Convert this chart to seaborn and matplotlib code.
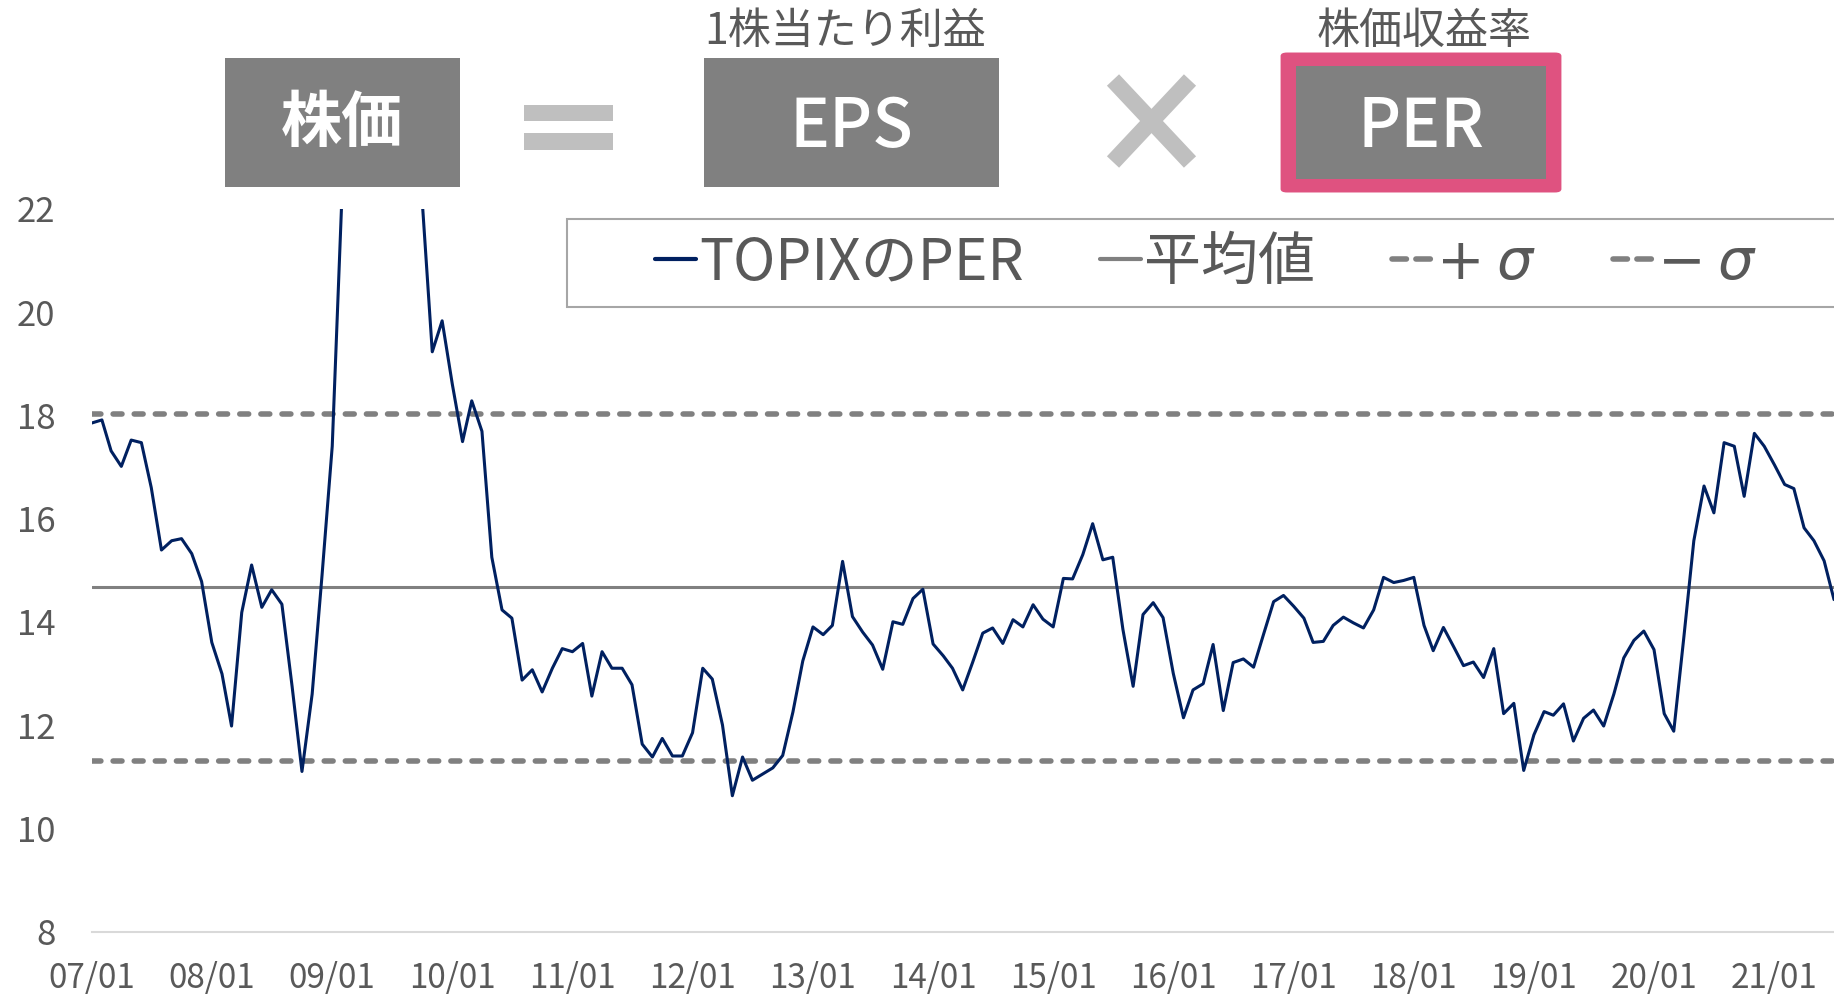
import matplotlib
matplotlib.use("Agg")
import matplotlib.pyplot as plt
import matplotlib.dates as mdates
from matplotlib.patches import Rectangle, FancyBboxPatch
from matplotlib.lines import Line2D
import numpy as np
import pandas as pd
import seaborn as sns

# ── data: TOPIX PER, monthly from 2007/01 ────────────────────────────────────
START = "2007-01-01"
per_values = [
    17.85, 17.91, 17.31, 17.01, 17.52, 17.47, 16.60, 15.39, 15.57, 15.61, 15.32, 14.78,   # 2007
    13.60, 12.99, 11.98, 14.18, 15.10, 14.28, 14.62, 14.34, 12.75, 11.10, 12.60, 14.90,   # 2008
    17.40, 22.50, 30.00, 38.00, 45.00, 52.00, 48.00, 40.00, 32.00, 22.20, 19.23, 19.83,   # 2009
    18.60, 17.49, 18.28, 17.69, 15.25, 14.23, 14.07, 12.87, 13.07, 12.64, 13.10, 13.48,   # 2010
    13.42, 13.58, 12.56, 13.42, 13.10, 13.10, 12.78, 11.63, 11.38, 11.74, 11.40, 11.40,   # 2011
    11.85, 13.10, 12.89, 12.00, 10.63, 11.38, 10.93, 11.05, 11.17, 11.41, 12.25, 13.24,   # 2012
    13.90, 13.75, 13.93, 15.17, 14.10, 13.80, 13.55, 13.08, 14.00, 13.95, 14.45, 14.63,   # 2013
    13.57, 13.34, 13.10, 12.68, 13.21, 13.78, 13.88, 13.58, 14.04, 13.90, 14.33, 14.05,   # 2014
    13.90, 14.84, 14.83, 15.30, 15.90, 15.20, 15.25, 13.85, 12.75, 14.14, 14.37, 14.08,   # 2015
    13.00, 12.14, 12.68, 12.80, 13.56, 12.28, 13.21, 13.28, 13.12, 13.75, 14.39, 14.51,   # 2016
    14.30, 14.07, 13.60, 13.62, 13.93, 14.09, 13.98, 13.88, 14.23, 14.86, 14.76, 14.80,   # 2017
    14.86, 13.93, 13.44, 13.89, 13.53, 13.15, 13.22, 12.92, 13.48, 12.22, 12.42, 11.12,   # 2018
    11.81, 12.26, 12.19, 12.41, 11.69, 12.13, 12.29, 11.98, 12.60, 13.30, 13.64, 13.82,   # 2019
    13.46, 12.22, 11.88, 13.72, 15.57, 16.63, 16.11, 17.47, 17.40, 16.43, 17.65, 17.40,   # 2020
    17.04, 16.66, 16.58, 15.82, 15.57, 15.18, 14.43,                                      # 2021
]
mean_value = 14.67
sigma = 3.36
y_ticks = [8, 10, 12, 14, 16, 18, 20, 22]
legend_labels = ["TOPIXのPER", "平均値", "$+$ $\\sigma$", "$-$ $\\sigma$"]
top_labels = ["1株当たり利益", "株価収益率"]

NAVY = "#002060"
GRAY = "#808080"
LIGHT = "#bfbfbf"
TEXT = "#595959"
PINK = "#df5280"

W, H = 1834, 994

sns.set_theme(style="white")
plt.rcParams["font.family"] = ["Noto Sans CJK JP", "DejaVu Sans"]

df = pd.DataFrame({
    "date": pd.date_range(START, periods=len(per_values), freq="MS"),
    "per": per_values,
})

fig = plt.figure(figsize=(W / 100, H / 100), dpi=100)
ax = fig.add_axes([91.7 / W, 1 - 931.5 / H, 1 - 91.7 / W, (931.5 - 208.8) / H])


def fx(px):
    return px / W


def fy(py):
    return 1 - py / H


def fig_rect(x0, y0, x1, y1, **kw):
    p = Rectangle((fx(x0), fy(y1)), (x1 - x0) / W, (y1 - y0) / H,
                  transform=fig.transFigure, clip_on=False, **kw)
    ax.add_patch(p)
    return p


# ── lines ────────────────────────────────────────────────────────────────────
sns.lineplot(data=df, x="date", y="per", color=NAVY, lw=2.2, ax=ax, zorder=3)
ax.axhline(mean_value, color=GRAY, lw=2.2, zorder=2)
ax.axhline(mean_value + sigma, color=GRAY, lw=4, dashes=(1.6, 2.2),
           dash_capstyle="round", zorder=2)
ax.axhline(mean_value - sigma, color=GRAY, lw=4, dashes=(1.6, 2.2),
           dash_capstyle="round", zorder=2)

ax.set_ylim(8, 22)
ax.set_yticks(y_ticks)
ax.set_xlim(pd.Timestamp("2007-01-01"), df["date"].iloc[-1])
ax.xaxis.set_major_locator(mdates.YearLocator())
ax.xaxis.set_major_formatter(mdates.DateFormatter("%y/%m"))
ax.set_xlabel("")
ax.set_ylabel("")
ax.tick_params(axis="y", length=0, pad=26, labelsize=25, labelcolor=TEXT)
ax.tick_params(axis="x", length=0, pad=21, labelsize=24, labelcolor=TEXT)
for s in ["top", "right", "left"]:
    ax.spines[s].set_visible(False)
ax.spines["bottom"].set_color("#d9d9d9")
ax.spines["bottom"].set_linewidth(1.5)
ax.grid(False)

# ── legend ───────────────────────────────────────────────────────────────────
fig_rect(567, 219, 1900, 307, facecolor="white", edgecolor="#a6a6a6", lw=1.5, zorder=4)
handles = [
    Line2D([], [], color=NAVY, lw=3),
    Line2D([], [], color=GRAY, lw=3),
    Line2D([], [], color=GRAY, lw=4, dashes=(2.6, 1.7), dash_capstyle="round"),
    Line2D([], [], color=GRAY, lw=4, dashes=(2.6, 1.7), dash_capstyle="round"),
]
leg = ax.legend(handles, legend_labels, ncol=4, loc="center left",
                bbox_to_anchor=(fx(655), fy(263)), bbox_transform=fig.transFigure,
                frameon=False, fontsize=41, handlelength=0.72, handletextpad=0.05,
                columnspacing=1.35, borderpad=0, borderaxespad=0)
leg.set_zorder(5)
for t in leg.get_texts():
    t.set_color(TEXT)

# ── banner: 株価 = EPS × PER ─────────────────────────────────────────────────
fig_rect(224.6, 58, 459.6, 187, facecolor=GRAY, edgecolor="none")
fig_rect(524, 105, 613, 121, facecolor=LIGHT, edgecolor="none")
fig_rect(524, 133, 613, 150, facecolor=LIGHT, edgecolor="none")
fig_rect(704, 58, 999, 187, facecolor=GRAY, edgecolor="none")

for (x0, y0, x1, y1) in [(1113, 80, 1190, 162), (1190, 80, 1113, 162)]:
    ax.add_line(Line2D([fx(x0), fx(x1)], [fy(y0), fy(y1)], color=LIGHT, lw=12,
                       solid_capstyle="butt", transform=fig.transFigure, clip_on=False))

pink = FancyBboxPatch((fx(1287), fy(189)), (1561 - 1281 - 12) / W, (195 - 50 - 12) / H,
                      boxstyle="round,pad=0.0035", transform=fig.transFigure,
                      facecolor=PINK, edgecolor="none", clip_on=False)
ax.add_patch(pink)
fig_rect(1296, 66, 1546, 179, facecolor=GRAY, edgecolor="none")

fig.text(fx(342), fy(124), "株価", color="white", fontsize=44, fontweight="bold",
         ha="center", va="center")
fig.text(fx(851), fy(128), "EPS", color="white", fontsize=48, fontweight="medium",
         ha="center", va="center")
fig.text(fx(1421), fy(128), "PER", color="white", fontsize=48, fontweight="medium",
         ha="center", va="center")
fig.text(fx(845), fy(32), top_labels[0], color=TEXT, fontsize=31,
         ha="center", va="center")
fig.text(fx(1424), fy(32), top_labels[1], color=TEXT, fontsize=31,
         ha="center", va="center")

fig.savefig("out.png", dpi=100, facecolor="white")
